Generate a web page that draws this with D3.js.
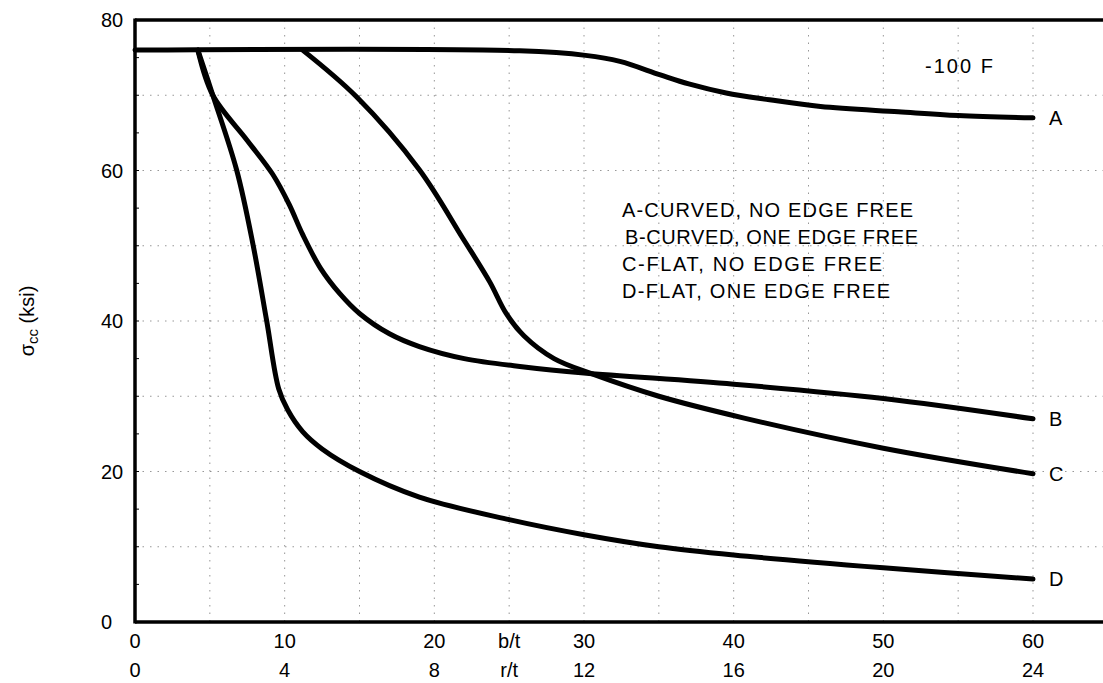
<!DOCTYPE html>
<html>
<head>
<meta charset="utf-8">
<script src="https://cdn.jsdelivr.net/npm/d3@7"></script>
<style>
  body { margin: 0; background: #fff; }
  svg { display: block; }
  text { font-family: "Liberation Sans", Arial, sans-serif; fill: #000; }
</style>
</head>
<body>
<div id="chart"></div>
<script>
// datos (b/t, sigma_cc en ksi)
const curveA = [[0,76],[25.7,75.9],[30.1,75.3],[32.4,74.5],[35.1,72.7],[37,71.5],[39.5,70.3],[42.4,69.4],[45.8,68.5],[51,67.8],[55,67.3],[60,67]];
const curveB = [[4.2,76],[5.2,70],[7.5,64],[9.2,59.5],[10.3,55.5],[11.2,51.5],[12.4,47],[13.7,43.6],[15,41],[17,38.3],[19,36.6],[22,35],[26,33.9],[30,33.1],[40,31.6],[50,29.7],[60,27]];
const curveC = [[11.2,76],[14.8,69.8],[19,60.1],[21.9,51],[23.7,45.2],[24.8,41],[26,38],[28,35],[30.5,33],[35,30],[40.7,27.1],[50,23.1],[60,19.7]];
const curveD = [[4.2,76],[5.2,70],[6.8,60],[7.9,50],[8.8,40],[9.6,31],[10.2,28.2],[11.2,25.3],[12.5,23],[15,20],[19,16.6],[25,13.6],[30,11.6],[35,10],[40,8.9],[50,7.2],[60,5.7]];

const curveNames = ["A", "B", "C", "D"];
const btTicks = [0, 10, 20, 30, 40, 50, 60];
const rtTicks = [0, 4, 8, 12, 16, 20, 24];
const yTicks = [0, 20, 40, 60, 80];
const gridX = [5, 10, 15, 20, 25, 30, 35, 40, 45, 50, 55, 60];
const gridY = [10, 20, 30, 40, 50, 60, 70];
const legendLines = ["A-CURVED, NO EDGE FREE", "B-CURVED, ONE EDGE FREE", "C-FLAT, NO EDGE FREE", "D-FLAT, ONE EDGE FREE"];
const legendWidths = [291, 293, 260, 268];

const width = 1103;
const height = 683;

const svg = d3.select("#chart").append("svg")
    .attr("width", width)
    .attr("height", height);

const x = d3.scaleLinear().domain([0, 60]).range([135, 1033]);
const y = d3.scaleLinear().domain([0, 80]).range([622, 20]);

// rejilla punteada
svg.append("g").selectAll("line").data(gridX).join("line")
    .attr("x1", d => x(d)).attr("x2", d => x(d))
    .attr("y1", y(80)).attr("y2", y(0))
    .attr("stroke", "#444").attr("stroke-width", 1)
    .attr("stroke-dasharray", "1.5,6").attr("opacity", 0.55);

svg.append("g").selectAll("line").data(gridY).join("line")
    .attr("x1", x(0)).attr("x2", width)
    .attr("y1", d => y(d)).attr("y2", d => y(d))
    .attr("stroke", "#444").attr("stroke-width", 1)
    .attr("stroke-dasharray", "1.5,6").attr("opacity", 0.55);

// marcas menores en el eje y
svg.append("g").selectAll("line").data(d3.range(5, 80, 5)).join("line")
    .attr("x1", x(0)).attr("x2", x(0) + 4)
    .attr("y1", d => y(d)).attr("y2", d => y(d))
    .attr("stroke", "#000").attr("stroke-width", 1);

// marco
svg.append("line").attr("x1", x(0)).attr("x2", x(0)).attr("y1", y(80) - 1.5).attr("y2", y(0) + 1.5)
    .attr("stroke", "#000").attr("stroke-width", 3.5);
svg.append("line").attr("x1", x(0)).attr("x2", width).attr("y1", y(0)).attr("y2", y(0))
    .attr("stroke", "#000").attr("stroke-width", 3.5);
svg.append("line").attr("x1", x(0)).attr("x2", width).attr("y1", y(80)).attr("y2", y(80))
    .attr("stroke", "#000").attr("stroke-width", 3.5);

// curvas
const line = d3.line()
    .x(d => x(d[0]))
    .y(d => y(d[1]))
    .curve(d3.curveCatmullRom.alpha(0.5));

const curves = [curveA, curveB, curveC, curveD];
svg.append("g").selectAll("path").data(curves).join("path")
    .attr("d", line)
    .attr("fill", "none")
    .attr("stroke", "#000")
    .attr("stroke-width", 5)
    .attr("stroke-linejoin", "round")
    .attr("stroke-linecap", "round");

// letras al final de cada curva
svg.append("g").selectAll("text").data(curves).join("text")
    .attr("x", x(60) + 16)
    .attr("y", d => y(d[d.length - 1][1]) + 7)
    .attr("font-size", 20)
    .text((d, i) => curveNames[i]);

// etiquetas eje x
svg.append("g").selectAll("text").data(btTicks).join("text")
    .attr("x", d => x(d)).attr("y", 648)
    .attr("text-anchor", "middle").attr("font-size", 20)
    .text(d => d);
svg.append("g").selectAll("text").data(rtTicks).join("text")
    .attr("x", (d, i) => x(btTicks[i])).attr("y", 677)
    .attr("text-anchor", "middle").attr("font-size", 20)
    .text(d => d);
svg.append("text").attr("x", x(25)).attr("y", 648).attr("text-anchor", "middle")
    .attr("font-size", 20).text("b/t");
svg.append("text").attr("x", x(25)).attr("y", 677).attr("text-anchor", "middle")
    .attr("font-size", 20).text("r/t");

// etiquetas eje y
svg.append("g").selectAll("text").data(yTicks).join("text")
    .attr("x", 101).attr("y", d => y(d) + 7)
    .attr("font-size", 20)
    .text(d => d);

// titulo eje y
const yt = svg.append("text")
    .attr("transform", "translate(34,321) rotate(-90)")
    .attr("text-anchor", "middle")
    .attr("font-size", 20);
yt.append("tspan").text("σ");
yt.append("tspan").attr("font-size", 15).attr("dy", 4).text("cc");
yt.append("tspan").attr("dy", -4).text(" (ksi)");

// temperatura
svg.append("text").attr("x", 925).attr("y", 73).attr("font-size", 20)
    .attr("textLength", 68).attr("lengthAdjust", "spacing").text("-100 F");

// leyenda
svg.append("g").selectAll("text").data(legendLines).join("text")
    .attr("x", (d, i) => i === 1 ? 625 : 622)
    .attr("y", (d, i) => 217 + i * 27)
    .attr("font-size", 20)
    .attr("textLength", (d, i) => legendWidths[i])
    .attr("lengthAdjust", "spacing")
    .text(d => d);
</script>
</body>
</html>
